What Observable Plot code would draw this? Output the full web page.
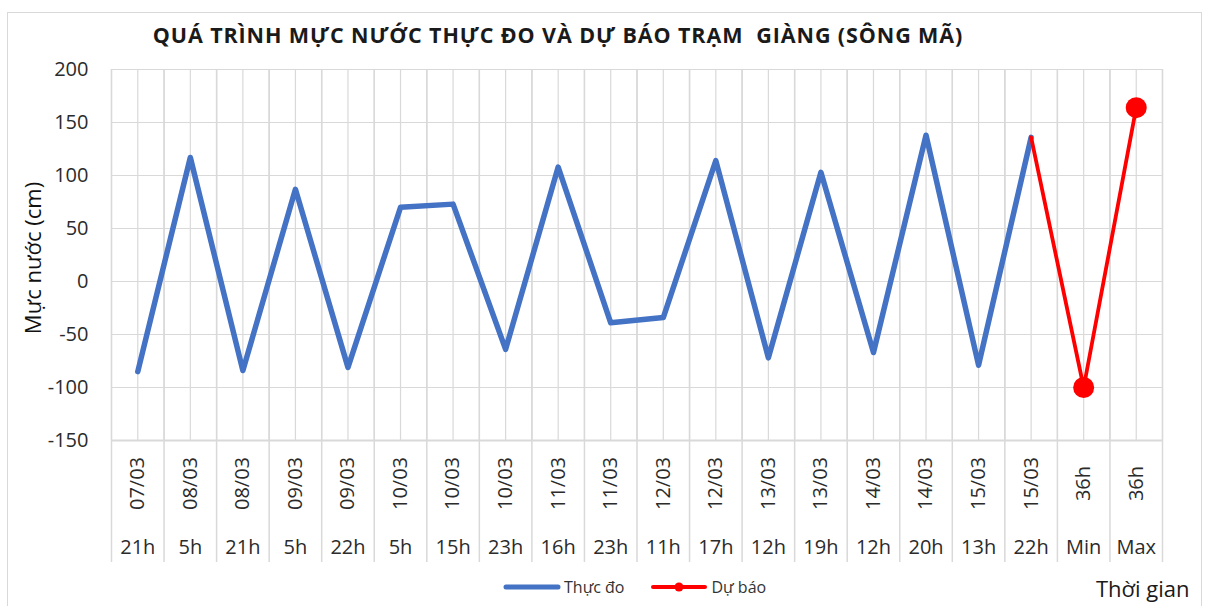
<!DOCTYPE html>
<html>
<head>
<meta charset="utf-8">
<script src="https://cdn.jsdelivr.net/npm/d3@7"></script>
<script src="https://cdn.jsdelivr.net/npm/@observablehq/plot@0.6"></script>
<style>
  html, body { margin: 0; padding: 0; background: #fff; }
  #wrap { position: relative; width: 1208px; height: 606px; overflow: hidden; font-family: "Open Sans", sans-serif; }
  #box { position: absolute; left: 7px; top: 12px; width: 1195px; height: 700px; border: 1.5px solid #d9d9d9; box-sizing: border-box; }
  #chart { position: absolute; left: 0; top: 0; }
  #title { position: absolute; left: 0; width: 1116px; top: 20px; text-align: center; font-weight: 700; font-size: 21.5px; letter-spacing: 0.9px; color: #1a1a1a; white-space: pre; }
  #ylabel { position: absolute; left: 32px; top: 258px; transform: translate(-50%, -50%) rotate(-90deg); font-size: 22px; color: #111; white-space: nowrap; }
  #legend { position: absolute; top: 576px; left: 503px; font-size: 16px; color: #333; display: flex; align-items: center; }
  .gap { display: inline-block; width: 26px; }
  #xlabel { position: absolute; left: 1096px; top: 573px; font-size: 22px; color: #1a1a1a; }
</style>
</head>
<body>
<div id="wrap">
  <div id="box"></div>
  <div id="chart"></div>
  <div id="title">QUÁ TRÌNH MỰC NƯỚC THỰC ĐO VÀ DỰ BÁO TRẠM  GIÀNG (SÔNG MÃ)</div>
  <div id="ylabel">Mực nước (cm)</div>
  <div id="legend">
    <svg width="58" height="12" style="margin-right:3px"><line x1="3" y1="6" x2="55" y2="6" stroke="#4472C4" stroke-width="5" stroke-linecap="round"/></svg><span>Thực đo</span>
    <span class="gap"></span>
    <svg width="58" height="12" style="margin-right:3px"><line x1="3" y1="6" x2="55" y2="6" stroke="#FF0000" stroke-width="4" stroke-linecap="round"/><circle cx="29" cy="6" r="4.5" fill="#FF0000"/></svg><span>Dự báo</span>
  </div>
  <div id="xlabel">Thời gian</div>
</div>
<script>
// ---- data ----
const dates = ["07/03","08/03","08/03","09/03","09/03","10/03","10/03","10/03","11/03","11/03",
               "12/03","12/03","13/03","13/03","14/03","14/03","15/03","15/03","36h","36h"];
const hours = ["21h","5h","21h","5h","22h","5h","15h","23h","16h","23h",
               "11h","17h","12h","19h","12h","20h","13h","22h","Min","Max"];
const observed = [-85, 117, -84, 87, -81, 70, 73, -64, 108, -39, -34, 114, -72, 103, -67, 138, -79, 136];
const forecast = [136, -100, 164];           // last three categories: 15/03 22h, 36h Min, 36h Max
const yTicks = [-150, -100, -50, 0, 50, 100, 150, 200];

// ---- derived tables ----
const n = dates.length;
const idx = d3.range(n);
const obsData = observed.map((v, i) => ({i, v}));
const fcData = forecast.map((v, k) => ({i: n - forecast.length + k, v}));
const boundaries = d3.range(n + 1).map(k => k - 0.5);
const halfGrid = d3.range(2 * n + 1).map(k => k / 2 - 0.5);

const plot = Plot.plot({
  width: 1208,
  height: 606,
  marginLeft: 111,
  marginRight: 46,
  marginTop: 69,
  marginBottom: 166,
  style: {fontFamily: "'Open Sans', sans-serif", background: "transparent"},
  x: {domain: [-0.5, n - 0.5], axis: null},
  y: {domain: [-150, 200], axis: null},
  marks: [
    Plot.ruleX(halfGrid, {x: d => d, stroke: "#d9d9d9", strokeWidth: 1.2}),
    Plot.ruleX(boundaries, {x: d => d, stroke: "#d9d9d9", strokeWidth: 1.5, insetBottom: -122}),
    Plot.ruleY(yTicks, {y: d => d, stroke: "#d9d9d9", strokeWidth: 1.2}),
    Plot.ruleY([-150], {stroke: "#d9d9d9", strokeWidth: 1.8}),
    Plot.text(yTicks, {x: -0.5, y: d => d, text: d => String(d), textAnchor: "end", dx: -23, fontSize: 20, fill: "#2b2b2b"}),
    Plot.text(idx, {x: d => d, text: d => dates[d], frameAnchor: "bottom", rotate: -90, dy: 43, textAnchor: "middle", lineAnchor: "middle", fontSize: 20, fill: "#2b2b2b"}),
    Plot.text(idx, {x: d => d, text: d => hours[d], frameAnchor: "bottom", dy: 107, textAnchor: "middle", lineAnchor: "middle", fontSize: 20, fill: "#2b2b2b"}),
    Plot.line(obsData, {x: "i", y: "v", stroke: "#4472C4", strokeWidth: 5.5, strokeLinejoin: "round", strokeLinecap: "round"}),
    Plot.line(fcData, {x: "i", y: "v", stroke: "#FF0000", strokeWidth: 3.8, strokeLinejoin: "round", strokeLinecap: "round"}),
    Plot.dot(fcData.slice(1), {x: "i", y: "v", r: 10.5, fill: "#FF0000", stroke: "none"})
  ]
});
document.getElementById("chart").appendChild(plot);
</script>
</body>
</html>
